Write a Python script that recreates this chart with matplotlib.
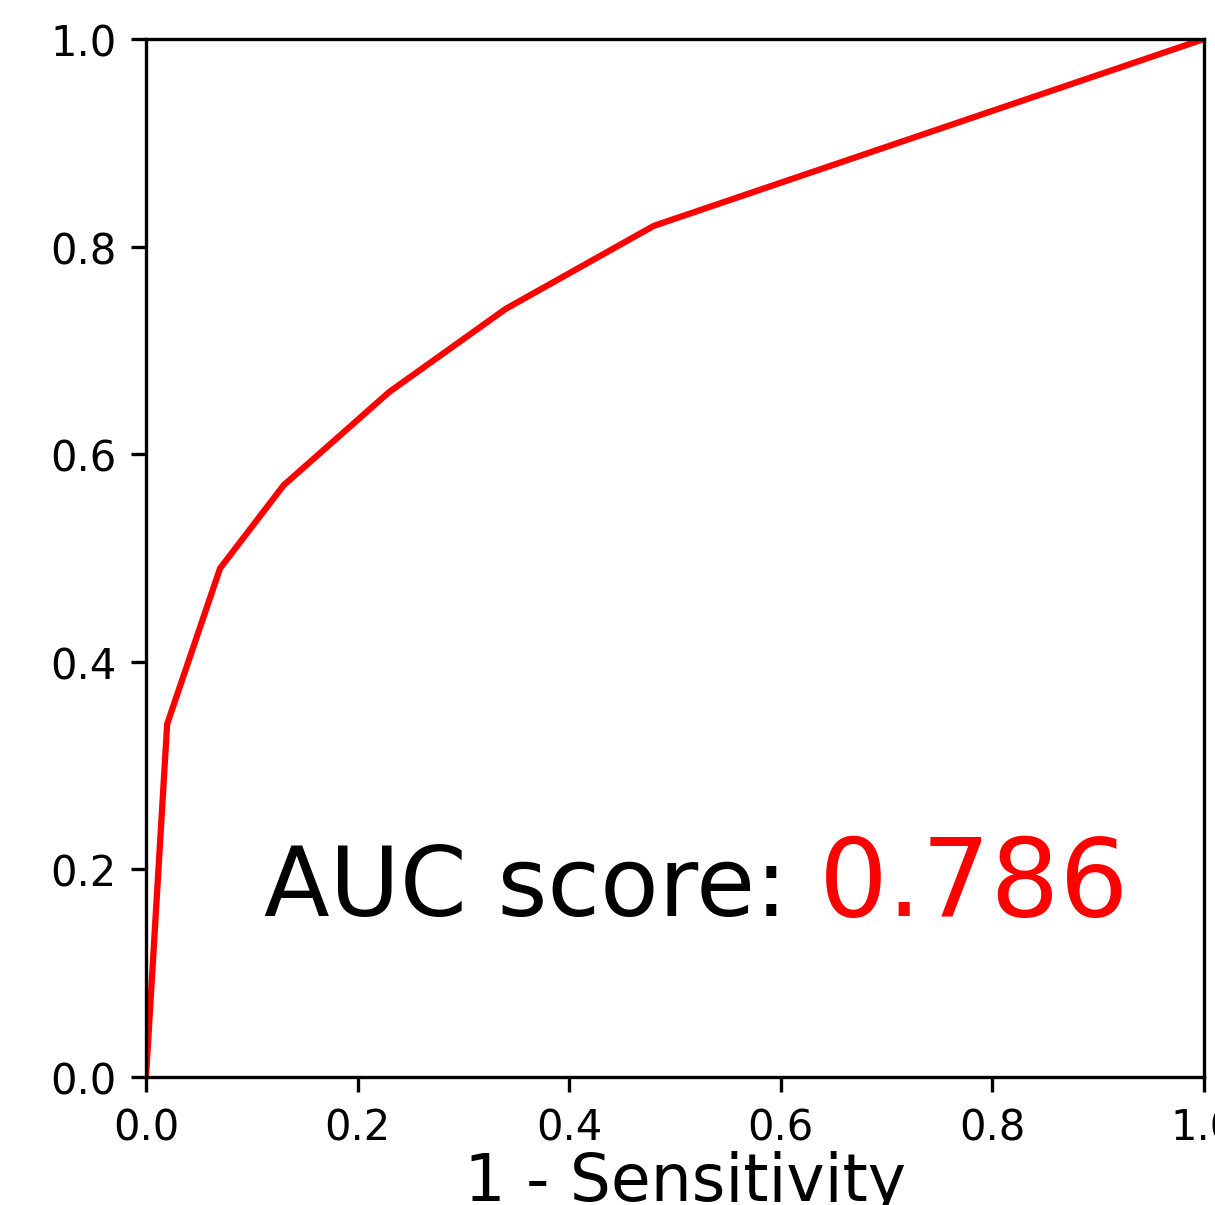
import numpy as np
from matplotlib import pyplot as plt

# ROC points
fpr = [0.0, 0.02, 0.07, 0.13, 0.23, 0.34, 0.48, 1.0]
tpr = [0.0, 0.34, 0.49, 0.57, 0.66, 0.74, 0.82, 1.0]
auc_score = 0.786

fig = plt.figure(figsize=(1215 / 300, 1206 / 300), dpi=300)
ax = fig.add_axes([146 / 1215, 1 - 1078 / 1206, 1058 / 1215, 1038 / 1206])

ax.plot(fpr, tpr, color="red")
ax.set_xlim(0, 1)
ax.set_ylim(0, 1)
ax.set_xlabel(" 1 - Sensitivity", fontsize=15.5, labelpad=0.5)

t = ax.text(0.112, 0.156, "AUC score: ", fontsize=23, color="black", va="baseline")
# bigger red number, baseline kept level with the black part
ax.annotate(f"{auc_score:.3f}", xy=(1, 0), xycoords=t, fontsize=26, color="red",
            va="bottom", ha="left", xytext=(0, -0.7), textcoords="offset points")

fig.savefig("out.png", dpi=300)
